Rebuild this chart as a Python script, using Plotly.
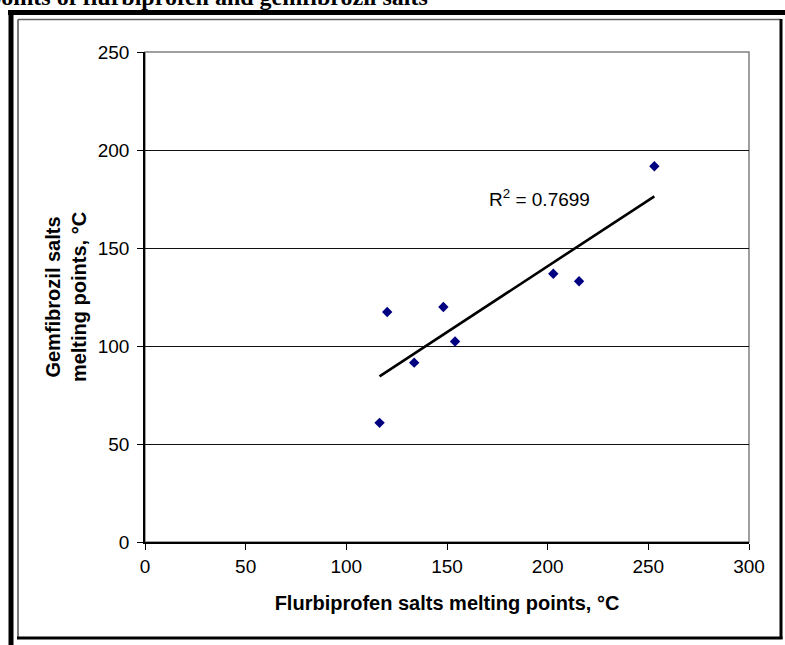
import numpy as np
import plotly.graph_objects as go

# Melting points (°C) of the paired salts
flurbiprofen_mp = [116.5, 120.3, 133.7, 148.2, 154.0, 202.8, 215.6, 253.0]
gemfibrozil_mp = [60.8, 117.37, 91.5, 119.9, 102.3, 136.9, 133.0, 191.7]

x_ticks = [0, 50, 100, 150, 200, 250, 300]
y_ticks = [0, 50, 100, 150, 200, 250]

# Linear least-squares trendline and its R²
xs = np.array(flurbiprofen_mp)
ys = np.array(gemfibrozil_mp)
slope, intercept = np.polyfit(xs, ys, 1)
pred = slope * xs + intercept
r2 = 1 - np.sum((ys - pred) ** 2) / np.sum((ys - ys.mean()) ** 2)
line_x = [xs.min(), xs.max()]
line_y = [slope * v + intercept for v in line_x]

W, H = 785, 645
L, R, T, B = 145, 36, 52, 103
pw, ph = W - L - R, H - T - B


def px(x):
    return (x - L) / pw


def py(y):
    return (H - B - y) / ph


SANS = "Liberation Sans, Arial, sans-serif"
SERIF = "Liberation Serif, Times New Roman, serif"

fig = go.Figure()
fig.add_trace(go.Scatter(
    x=flurbiprofen_mp, y=gemfibrozil_mp, mode="markers",
    marker=dict(symbol="diamond", size=8, color="#000080", line=dict(width=0)),
    showlegend=False, hoverinfo="skip"))
fig.add_trace(go.Scatter(
    x=line_x, y=line_y, mode="lines",
    line=dict(color="black", width=2.6),
    showlegend=False, hoverinfo="skip"))

axis_common = dict(
    ticks="outside", ticklen=6, tickwidth=1.3, tickcolor="black",
    showline=True, linecolor="black", linewidth=1.5,
    zeroline=False, tickfont=dict(family=SANS, size=19, color="black"),
    mirror=False,
)

fig.update_layout(
    width=W, height=H,
    margin=dict(l=L, r=R, t=T, b=B, pad=0),
    paper_bgcolor="white", plot_bgcolor="white",
    xaxis=dict(range=[0, 300], tickvals=x_ticks, showgrid=False,
               title=dict(text="Flurbiprofen salts melting points, °C",
                          font=dict(family=SANS, size=20, color="black", weight="bold"),
                          standoff=20),
               **axis_common),
    yaxis=dict(range=[0, 250], tickvals=y_ticks, showgrid=True,
               gridcolor="#111111", gridwidth=1.4, ticklabelstandoff=4,
               title=dict(text="Gemfibrozil salts<br>melting points, °C",
                          font=dict(family=SANS, size=20, color="black", weight="bold"),
                          standoff=6),
               **axis_common),
)

shapes = [
    # plot-area border (grey, top and right show)
    dict(type="rect", xref="paper", yref="paper", x0=0, x1=1, y0=0, y1=1,
         line=dict(color="#808080", width=1.5), layer="between"),
    # outer heavy frame
    dict(type="line", xref="paper", yref="paper", x0=px(8), x1=px(800),
         y0=py(12.5), y1=py(12.5), line=dict(color="black", width=5)),
    dict(type="line", xref="paper", yref="paper", x0=px(11), x1=px(11),
         y0=py(10), y1=py(660), line=dict(color="black", width=5)),
    # chart-area frame with shadowed right/bottom edges
    dict(type="line", xref="paper", yref="paper", x0=px(18), x1=px(781),
         y0=py(19.5), y1=py(19.5), line=dict(color="#606060", width=1.5)),
    dict(type="line", xref="paper", yref="paper", x0=px(18), x1=px(18),
         y0=py(19.5), y1=py(638), line=dict(color="#505050", width=1.5)),
    dict(type="line", xref="paper", yref="paper", x0=px(781), x1=px(781),
         y0=py(19), y1=py(639), line=dict(color="black", width=3)),
    dict(type="line", xref="paper", yref="paper", x0=px(17), x1=px(782.5),
         y0=py(638), y1=py(638), line=dict(color="black", width=3)),
]
fig.update_layout(shapes=shapes)

fig.add_annotation(
    xref="paper", yref="paper", x=px(-14), y=py(-3), xanchor="left", yanchor="middle",
    text="points of flurbiprofen and gemfibrozil salts", showarrow=False,
    font=dict(family=SERIF, size=24, color="black", weight="bold"))
fig.add_annotation(
    xref="x", yref="y", x=196, y=175.3, xanchor="center", yanchor="middle",
    text=f"R<sup>2</sup> = {r2:.4f}", showarrow=False,
    font=dict(family=SANS, size=19, color="black"))

fig.write_html("out.html")
